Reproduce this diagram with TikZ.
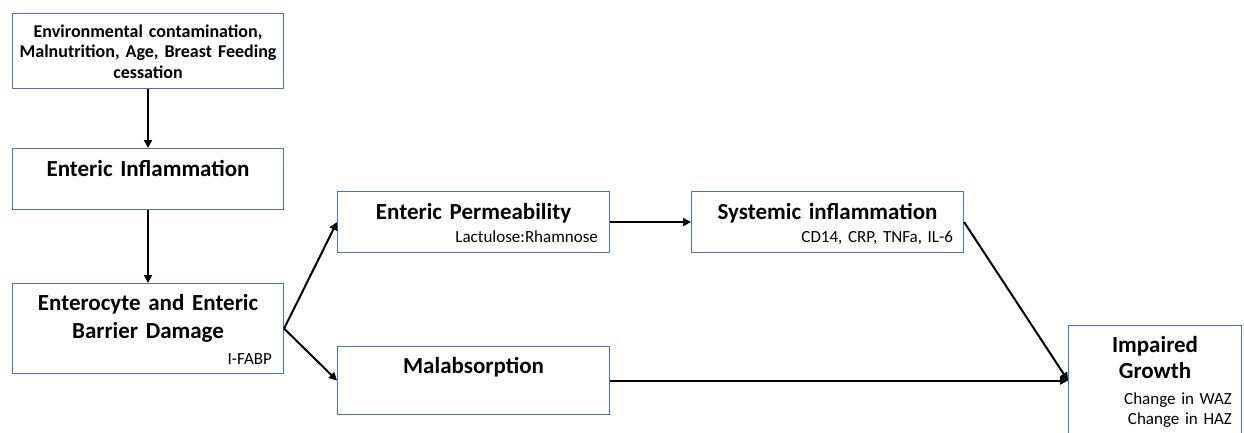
\documentclass[tikz,border=0pt]{standalone}
\usepackage{fontspec}
\setmainfont{Carlito}
\usepackage{xcolor}
\usetikzlibrary{arrows.meta, positioning, calc}
\definecolor{boxblue}{HTML}{4472C4}

\begin{document}
\begin{tikzpicture}[x=1pt, y=-1pt, >={Triangle[length=8pt, width=8pt]},
    box/.style={draw=boxblue, line width=1.1pt, rectangle, inner sep=0pt, anchor=north west},
    ttl/.style={font=\fontsize{23}{28}\selectfont\bfseries, text width=260pt, align=center, inner sep=0pt, anchor=base},
    sub/.style={font=\fontsize{17}{20}\selectfont, text width=160pt, align=right, inner sep=0pt, anchor=base east},
    flow/.style={->, line width=2pt}]
    \useasboundingbox (0,0) rectangle (1244,432);

    % boxes
    \node[box, minimum width=271pt, minimum height=75pt] (env) at (12,13) {};
    \node[box, minimum width=271pt, minimum height=61pt] (inf) at (12,148) {};
    \node[box, minimum width=271pt, minimum height=90pt] (barr) at (12,283) {};
    \node[box, minimum width=272pt, minimum height=61pt] (perm) at (337,191) {};
    \node[box, minimum width=272pt, minimum height=68pt] (mal) at (337,346) {};
    \node[box, minimum width=272pt, minimum height=61pt] (sys) at (691,191) {};
    \node[box, minimum width=173pt, minimum height=110pt] (grow) at (1068,325) {};

    % titles
    \node[ttl, font=\fontsize{18}{20.5}\selectfont\bfseries] (envT) at ($(env.north)+(0,24.3)$) {Environmental contamination,\\ Malnutrition, Age, Breast Feeding\\ cessation};
    \node[ttl] (infT) at ($(inf.north)+(0,28.7)$) {Enteric Inflammation};
    \node[ttl] (barrT) at ($(barr.north)+(0,27)$) {Enterocyte and Enteric\\ Barrier Damage};
    \node[ttl] (permT) at ($(perm.north)+(0,28)$) {Enteric Permeability};
    \node[ttl] (malT) at ($(mal.north)+(0,27.3)$) {Malabsorption};
    \node[ttl] (sysT) at ($(sys.north)+(0,28)$) {Systemic inflammation};
    \node[ttl, text width=160pt, font=\fontsize{23}{26.5}\selectfont\bfseries] (growT) at ($(grow.north)+(0,27)$) {Impaired\\ Growth};

    % markers
    \node[sub] (barrS) at ($(barr.south east)+(-12,-9.7)$) {I-FABP};
    \node[sub] (permS) at ($(perm.south east)+(-12,-11)$) {Lactulose:Rhamnose};
    \node[sub] (sysS) at ($(sys.south east)+(-11,-11)$) {CD14, CRP, TNFa, IL-6};
    \node[sub] (growS) at ($(grow.north east)+(-10,79)$) {Change in WAZ\\ Change in HAZ};

    % arrows
    \draw[flow] (env) -- (inf);
    \draw[flow] (inf) -- (barr);
    \draw[flow] (barr.east) -- (perm.west);
    \draw[flow] (barr.east) -- (mal.west);
    \draw[flow] (perm) -- (sys);
    \draw[flow] (sys.east) -- (grow.west);
    \draw[flow] (mal.east) -- (grow.west);
\end{tikzpicture}
\end{document}
